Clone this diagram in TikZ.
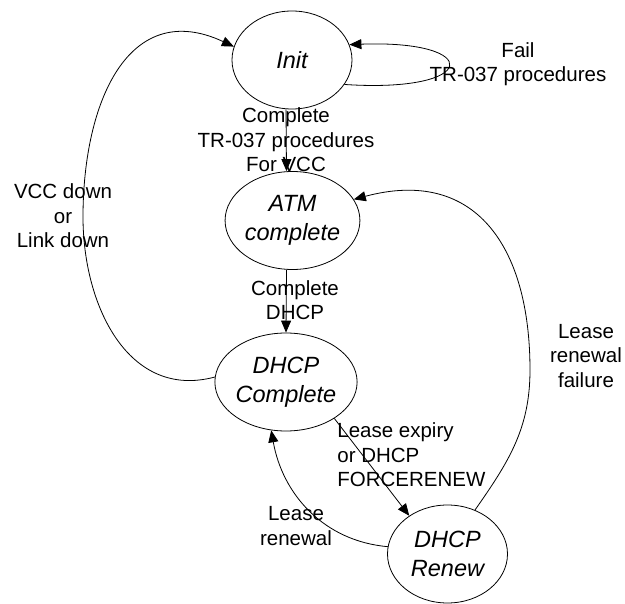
\documentclass[tikz,border=0pt]{standalone}
\usepackage{fontspec}
\setmainfont{Liberation Sans}
\usetikzlibrary{shapes.geometric, arrows.meta}
\newcommand{\mystatefont}{\fontsize{23.5}{29}\selectfont\itshape}
\newcommand{\mylabelfont}{\fontsize{20.5}{24.5}\selectfont}

\begin{document}
\begin{tikzpicture}[x=1pt, y=1pt, line width=0.8pt,
		state/.style={draw, ellipse, minimum width=120pt, minimum height=98pt, inner sep=0pt, align=center, font=\mystatefont},
		lbl/.style={inner sep=0pt, align=center, font=\mylabelfont},
		trans/.style={-{Triangle[length=12pt,width=10pt]}}]
				%Page frame
				\useasboundingbox (0,0) rectangle (625,-604);
				%Centres of the states
				\coordinate (centerInit) at (292,-60);
				\coordinate (centerAtm) at (292.5,-220.5);
				\coordinate (centerDhcp) at (286,-382);
				\coordinate (centerRenew) at (447.5,-554);
				%The states
				\node [state] (init) at (centerInit) {Init};
				\node [state] (atm) at (centerAtm) {ATM\\complete};
				\node [state] (dhcp) at (centerDhcp) {DHCP\\Complete};
				\node [state] (renew) at (centerRenew) {DHCP\\Renew};
				%Bends of the long arcs
				\coordinate (leftBend) at (83,-217);
				\coordinate (rightBend) at (530,-370);
				%Straight transitions
				\draw [trans] ([xshift=-6pt]init.south) -- ([xshift=-6pt]atm.north);
				\draw [trans] ([xshift=-6pt]atm.south) -- (dhcp.north);
				\draw [trans] (dhcp.-37) -- (renew.135);
				%Loop on Init
				\draw [trans] (init.-25) .. controls +(135,-9) and +(135,5) .. (init.15);
				%Back to Init
				\draw [trans] (dhcp.176) to[out=195, in=-90, looseness=1.1] (leftBend)
					to[out=90, in=155, looseness=1.3] (init.167);
				%Back to ATM complete
				\draw [trans] (renew.58) to[out=55, in=-90] (rightBend)
					to[out=90, in=15, looseness=1.3] (atm.19);
				%Renewal
				\draw [trans] (renew.173) to[out=175, in=-80] (dhcp.-107);
				%Labels
				\node [lbl] (lblComplete) at (286,-140) {Complete\\TR-037 procedures\\For VCC};
				\node [lbl] (lblDhcp) at (295,-300) {Complete\\DHCP};
				\node [lbl] (lblFail) at (518,-64) {Fail\\TR-037 procedures};
				\node [lbl] (lblDown) at (63,-216) {VCC down\\or\\Link down};
				\node [lbl] (lblFailure) at (586,-356) {Lease\\renewal\\failure};
				\node [lbl, align=left, anchor=west] (lblExpiry) at (337,-455) {Lease expiry\\or DHCP\\FORCERENEW};
				\node [lbl] (lblRenewal) at (296,-526) {Lease\\renewal};
\end{tikzpicture}
\end{document}
